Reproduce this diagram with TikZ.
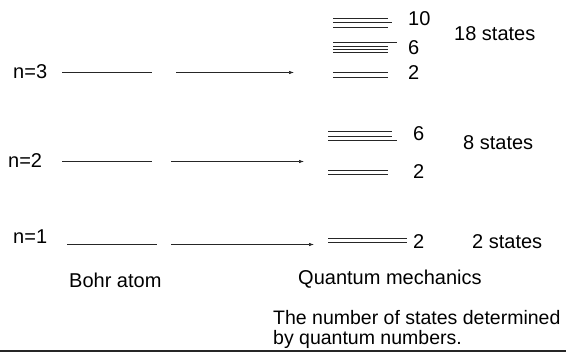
\documentclass[tikz,border=0pt]{standalone}
\usepackage{fontspec}
\setmainfont{Liberation Sans}
\usetikzlibrary{arrows.meta}
\begin{document}
\begin{tikzpicture}[x=1pt,y=-1pt,
  lbl/.style={inner sep=0pt, font=\fontsize{20}{20}\selectfont, anchor=west},
  bohr/.style={line width=1pt, draw=black!85},
  lev/.style={line width=0.8pt, draw=black!85},
  arr/.style={line width=0.7pt, draw=black!85, -{Latex[length=5pt,width=3.5pt]}}]
\useasboundingbox (0,0) rectangle (566,352);
% left labels
\node[lbl] (n3) at (13,72) {n=3};
\node[lbl] (n2) at (8,161) {n=2};
\node[lbl] (n1) at (13,237) {n=1};
% Bohr levels
\coordinate (b3s) at (62,72.5);  \coordinate (b3e) at (152,72.5);
\coordinate (b2s) at (62,161.5); \coordinate (b2e) at (152,161.5);
\coordinate (b1s) at (67,244.5); \coordinate (b1e) at (157,244.5);
\draw[bohr] (b3s) -- (b3e);
\draw[bohr] (b2s) -- (b2e);
\draw[bohr] (b1s) -- (b1e);
% arrows
\coordinate (a3s) at (176,72.5);  \coordinate (a3e) at (294,72.5);
\coordinate (a2s) at (171,161.5); \coordinate (a2e) at (304,161.5);
\coordinate (a1s) at (171,244.5); \coordinate (a1e) at (314,244.5);
\draw[arr] (a3s) -- (a3e);
\draw[arr] (a2s) -- (a2e);
\draw[arr] (a1s) -- (a1e);
% quantum levels n=3
\foreach \y/\xe [count=\i] in {18.3/388, 22.7/392, 27.3/388,
                    42.7/397, 46.2/388, 49.5/388, 52.7/388,
                    72.7/388, 77.3/388}
  {\coordinate (q3s\i) at (333,\y); \coordinate (q3e\i) at (\xe,\y);
   \draw[lev] (q3s\i) -- (q3e\i);}
% quantum levels n=2
\foreach \y/\xe [count=\i] in {131.7/392, 136.2/392, 140.7/397,
                    170.7/388, 174.3/388}
  {\coordinate (q2s\i) at (328,\y); \coordinate (q2e\i) at (\xe,\y);
   \draw[lev] (q2s\i) -- (q2e\i);}
% quantum levels n=1
\foreach \y [count=\i] in {238.3, 242.7}
  {\coordinate (q1s\i) at (328,\y); \coordinate (q1e\i) at (407,\y);
   \draw[lev] (q1s\i) -- (q1e\i);}
% counts
\node[lbl] (c10) at (408,18.3) {10};
\node[lbl] (c6a) at (408,47.5) {6};
\node[lbl] (c2a) at (408,73) {2};
\node[lbl] (c6b) at (413,134) {6};
\node[lbl] (c2b) at (413,172) {2};
\node[lbl] (c2c) at (413,242) {2};
% states
\node[lbl] (s18) at (454,34) {18 states};
\node[lbl] (s8) at (463,143) {8 states};
\node[lbl] (s2) at (472,242) {2 states};
% captions
\node[lbl] (bohr) at (69,280) {Bohr atom};
\node[lbl] (qm) at (298,279) {Quantum mechanics};
\node[lbl, anchor=north west, align=left, font=\fontsize{19.5}{19.5}\selectfont] (note) at (273,310.5)
  {The number of states determined\\by quantum numbers.};
% bottom rule
\coordinate (r1) at (0,350.8); \coordinate (r2) at (566,350.8);
\draw[line width=2pt, black!85] (r1) -- (r2);
\end{tikzpicture}
\end{document}
